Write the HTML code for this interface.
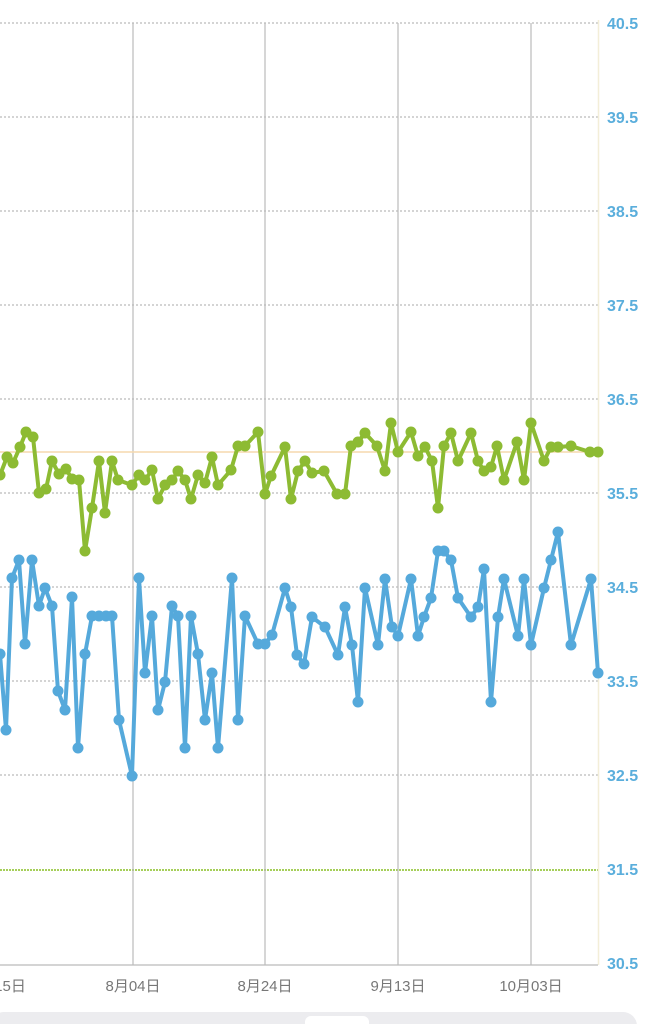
<!DOCTYPE html>
<html><head><meta charset="utf-8"><style>
html,body{margin:0;padding:0;background:#fff;width:657px;height:1024px;overflow:hidden}
svg{display:block}
.yl{font-family:"Liberation Sans",sans-serif;font-size:16px;fill:#5aaedc;font-weight:bold}
.xl{font-family:"Liberation Sans","Noto Sans CJK JP",sans-serif;font-size:15px;fill:#777}
</style></head><body>
<svg width="657" height="1024" viewBox="0 0 657 1024">
<g stroke="#aaa" stroke-width="1" stroke-dasharray="2,2">
<line x1="0" y1="23" x2="598" y2="23"/><line x1="0" y1="117" x2="598" y2="117"/>
<line x1="0" y1="211" x2="598" y2="211"/><line x1="0" y1="305" x2="598" y2="305"/>
<line x1="0" y1="399" x2="598" y2="399"/><line x1="0" y1="493" x2="598" y2="493"/>
<line x1="0" y1="587" x2="598" y2="587"/><line x1="0" y1="681" x2="598" y2="681"/>
<line x1="0" y1="775" x2="598" y2="775"/>
</g>
<line x1="0" y1="870" x2="598" y2="870" stroke="#a6cf5a" stroke-width="2" stroke-dasharray="2,1"/>
<g stroke="#bbb" stroke-width="1.2">
<line x1="133" y1="23" x2="133" y2="965"/><line x1="265" y1="23" x2="265" y2="965"/>
<line x1="398" y1="23" x2="398" y2="965"/><line x1="531" y1="23" x2="531" y2="965"/>
</g>
<line x1="598.5" y1="20" x2="598.5" y2="965" stroke="#f3eed8" stroke-width="1.5"/>
<line x1="0" y1="965" x2="598" y2="965" stroke="#bbb" stroke-width="1.2"/>
<line x1="0" y1="452" x2="598" y2="452" stroke="#f5d9ae" stroke-width="1.5"/>
<g class="yl">
<text x="607" y="29">40.5</text><text x="607" y="123">39.5</text><text x="607" y="217">38.5</text>
<text x="607" y="311">37.5</text><text x="607" y="405">36.5</text><text x="607" y="499">35.5</text>
<text x="607" y="593">34.5</text><text x="607" y="687">33.5</text><text x="607" y="781">32.5</text>
<text x="607" y="875">31.5</text><text x="607" y="969">30.5</text>
</g>
<g class="xl" text-anchor="middle">
<text x="10" y="991">15日</text><text x="133" y="991">8月04日</text><text x="265" y="991">8月24日</text>
<text x="398" y="991">9月13日</text><text x="531" y="991">10月03日</text>
</g>
<rect x="-10" y="1012" width="647" height="30" rx="14" fill="#ececef"/>
<rect x="305" y="1016" width="64" height="20" rx="6" fill="#fff"/>
<polyline fill="none" stroke="#8dbb33" stroke-width="4" stroke-linejoin="round" points="0,475 7,457 13,463 20,447 26,432 33,437 39,493 46,489 52,461 59,474 66,469 72,479 79,480 85,551 92,508 99,461 105,513 112,461 118,480 132,485 139,475 145,480 152,470 158,499 165,485 172,480 178,471 185,480 191,499 198,475 205,483 212,457 218,485 231,470 238,446 245,446 258,432 265,494 271,476 285,447 291,499 298,471 305,461 312,473 324,471 337,494 345,494 351,446 358,442 365,433 377,446 385,471 391,423 398,452 411,432 418,456 425,447 432,461 438,508 444,446 451,433 458,461 471,433 478,461 484,471 491,467 497,446 504,480 517,442 524,480 531,423 544,461 551,447 558,447 571,446 590,452 598,452"/>
<g fill="#8dbb33" id="gd"></g>
<polyline fill="none" stroke="#55a9db" stroke-width="4" stroke-linejoin="round" points="0,654 6,730 12,578 19,560 25,644 32,560 39,606 45,588 52,606 58,691 65,710 72,597 78,748 85,654 92,616 99,616 106,616 112,616 119,720 132,776 139,578 145,673 152,616 158,710 165,682 172,606 178,616 185,748 191,616 198,654 205,720 212,673 218,748 232,578 238,720 245,616 258,644 265,644 272,635 285,588 291,607 297,655 304,664 312,617 325,627 338,655 345,607 352,645 358,702 365,588 378,645 385,579 392,627 398,636 411,579 418,636 424,617 431,598 438,551 444,551 451,560 458,598 471,617 478,607 484,569 491,702 498,617 504,579 518,636 524,579 531,645 544,588 551,560 558,532 571,645 591,579 598,673"/>
<g fill="#55a9db" id="bd"></g>
</svg>
<script>
function dots(sel,gid){var p=document.querySelector(sel).getAttribute('points').trim().split(/\s+/);var g=document.getElementById(gid);p.forEach(function(s){var a=s.split(',');var c=document.createElementNS('http://www.w3.org/2000/svg','circle');c.setAttribute('cx',a[0]);c.setAttribute('cy',a[1]);c.setAttribute('r','5.5');g.appendChild(c);});}
var pl=document.querySelectorAll('polyline');pl[0].id='g1';pl[1].id='b1';dots('#g1','gd');dots('#b1','bd');
</script>
</body></html>
